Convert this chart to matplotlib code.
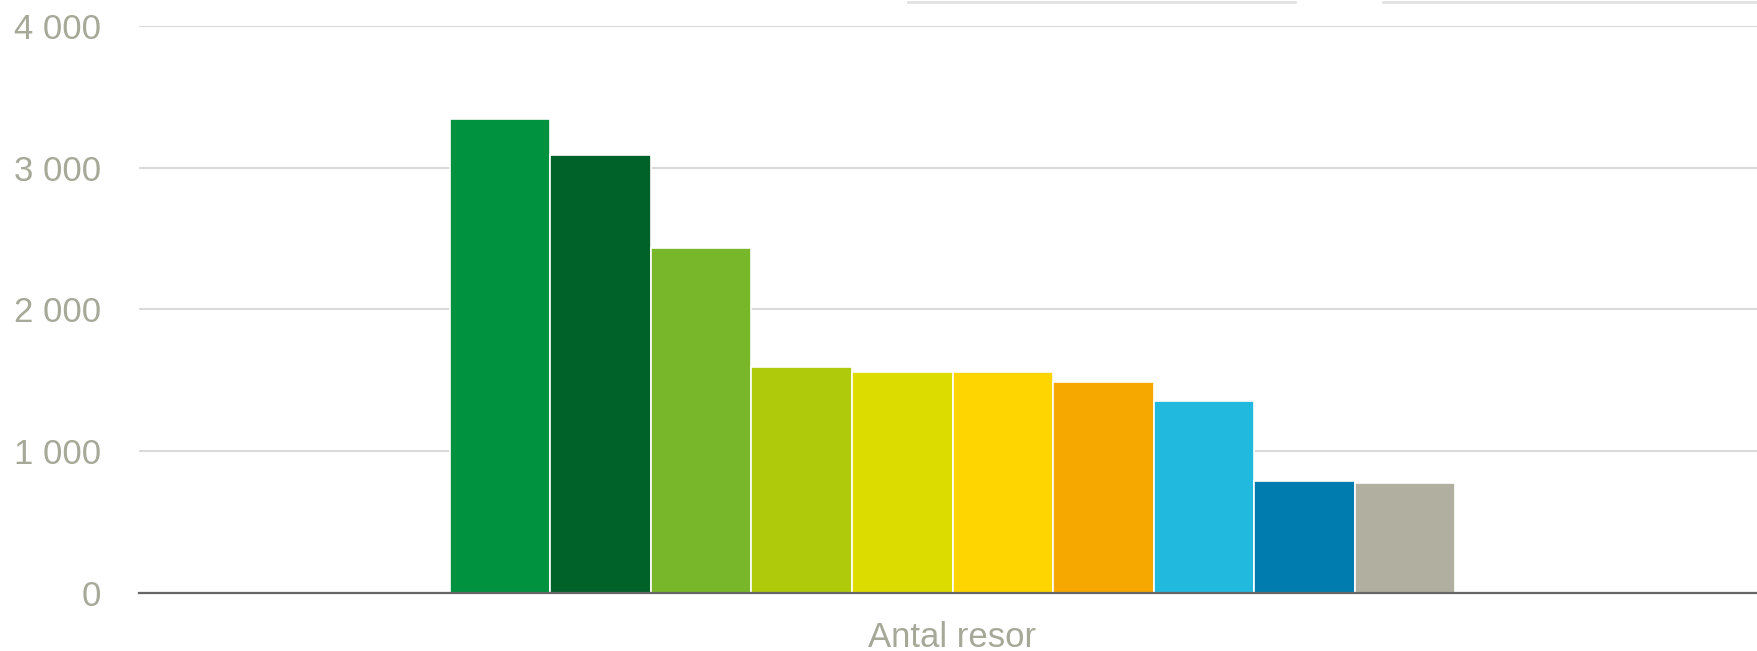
import matplotlib
matplotlib.use("Agg")
import matplotlib.pyplot as plt
from matplotlib.lines import Line2D
from matplotlib.ticker import FuncFormatter

category = "Antal resor"
series_values = [3345, 3090, 2435, 1597, 1560, 1560, 1487, 1352, 792, 776]
colors = ["#00923f", "#006129", "#78b72a", "#afca0b", "#dcdc00",
          "#ffd500", "#f6a800", "#22b9df", "#007dae", "#b1b0a0"]
y_ticks = [0, 1000, 2000, 3000, 4000]

plt.rcParams['font.family'] = ['Liberation Sans', 'DejaVu Sans']

W, H = 1758, 651
fig = plt.figure(figsize=(W / 100, H / 100), dpi=100)
ax = fig.add_axes([139 / W, 1 - 593 / H, (W - 139) / W, (593 - 26) / H])

x = list(range(len(series_values)))
ax.bar(x, series_values, width=1.0, color=colors, edgecolor="white",
       linewidth=1.2, zorder=3)

ax.set_xlim(-0.5 - 3.09, len(series_values) - 0.5 + 3.01)
ax.set_ylim(0, 4000)
ax.set_yticks(y_ticks)
ax.yaxis.set_major_formatter(FuncFormatter(lambda v, p: f"{int(v):,}".replace(",", " ")))
ax.grid(axis="y", color="#d9d9d9", linewidth=1.5, zorder=0)
ax.set_xticks([(len(series_values) - 1) / 2])
ax.set_xticklabels([category])

for s in ["top", "right", "left"]:
    ax.spines[s].set_visible(False)
ax.spines["bottom"].set_color("#666666")
ax.spines["bottom"].set_linewidth(1.6)
ax.spines["bottom"].set_zorder(4)

ax.tick_params(axis="y", length=0, pad=27, labelsize=25, labelcolor="#a6a898")
ax.tick_params(axis="x", length=0, pad=20, labelsize=25, labelcolor="#a6a898")

# faint legend box edges at the top
for x0, x1 in [(908, 1295), (1383, 1758)]:
    fig.add_artist(Line2D([x0 / W, x1 / W], [1 - 1.5 / H, 1 - 1.5 / H],
                          color="#e2e2e2", linewidth=2, transform=fig.transFigure))

fig.savefig("out.png", dpi=100, facecolor="white")
